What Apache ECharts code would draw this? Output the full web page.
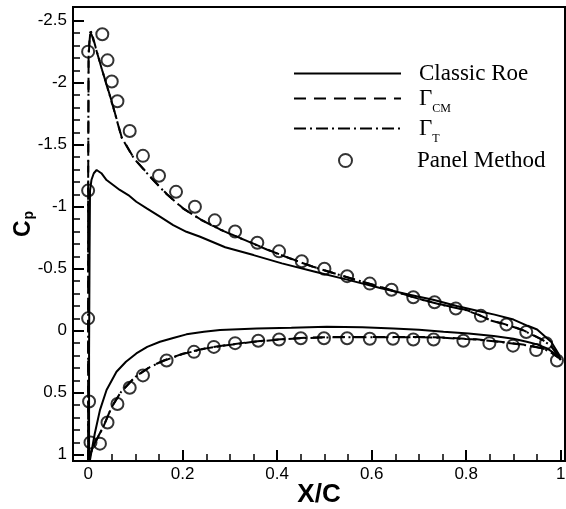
<!DOCTYPE html>
<html><head><meta charset="utf-8">
<script src="https://cdn.jsdelivr.net/npm/echarts@6/dist/echarts.min.js"></script>
<style>html,body{margin:0;padding:0;background:#fff}#c{width:566px;height:509px}</style>
</head><body><div id="c"></div>
<script>
// ---- tick labels ----
const xMajorTicks = [0, 0.2, 0.4, 0.6, 0.8, 1];
const xMinorTicks = [0.05, 0.1, 0.15, 0.25, 0.3, 0.35, 0.45, 0.5, 0.55, 0.65, 0.7, 0.75, 0.85, 0.9, 0.95];
const yMajorTicks = [-2.5, -2, -1.5, -1, -0.5, 0, 0.5, 1];
const yMinorTicks = [-2.4, -2.3, -2.2, -2.1, -1.9, -1.8, -1.7, -1.6, -1.4, -1.3, -1.2, -1.1, -0.9, -0.8, -0.7, -0.6, -0.4, -0.3, -0.2, -0.1, 0.1, 0.2, 0.3, 0.4, 0.6, 0.7, 0.8, 0.9];

// ---- series names ----
const seriesNames = ['Classic Roe', 'Γ_CM', 'Γ_T', 'Panel Method'];

// ---- Classic Roe (solid) : upper TE -> LE -> lower TE ----
const roeX = [1.000, 0.995, 0.980, 0.971, 0.950, 0.930, 0.900, 0.860, 0.830, 0.780, 0.730, 0.680, 0.620, 0.550, 0.480, 0.410, 0.350, 0.290, 0.237, 0.208, 0.180, 0.152, 0.124, 0.102, 0.085, 0.067, 0.053, 0.039, 0.028, 0.018, 0.012, 0.007, 0.004, 0.003, 0.002, 0.002, 0.004, 0.007, 0.014, 0.025, 0.039, 0.060, 0.080, 0.102, 0.125, 0.152, 0.180, 0.208, 0.245, 0.279, 0.357, 0.430, 0.505, 0.580, 0.646, 0.700, 0.752, 0.805, 0.858, 0.900, 0.928, 0.950, 0.971, 0.990, 1.000];
const roeCp = [0.236, 0.183, 0.090, 0.061, -0.010, -0.040, -0.090, -0.130, -0.155, -0.200, -0.250, -0.290, -0.342, -0.410, -0.476, -0.543, -0.610, -0.673, -0.758, -0.798, -0.852, -0.920, -0.987, -1.040, -1.094, -1.135, -1.175, -1.215, -1.270, -1.296, -1.270, -1.215, -1.130, -0.600, 0.200, 1.000, 1.040, 0.976, 0.830, 0.640, 0.478, 0.330, 0.250, 0.183, 0.130, 0.089, 0.058, 0.029, 0.008, -0.006, -0.019, -0.025, -0.032, -0.028, -0.019, -0.008, 0.008, 0.022, 0.043, 0.065, 0.089, 0.110, 0.142, 0.190, 0.236];

// ---- Gamma_CM (dashed) ----
const gcmX = [0.995, 0.978, 0.960, 0.942, 0.920, 0.900, 0.875, 0.850, 0.826, 0.801, 0.752, 0.709, 0.667, 0.618, 0.568, 0.526, 0.476, 0.427, 0.378, 0.332, 0.282, 0.240, 0.201, 0.167, 0.138, 0.097, 0.071, 0.050, 0.030, 0.016, 0.008, 0.004, 0.001, 0.000, 0.000, 0.000, 0.002, 0.006, 0.012, 0.021, 0.032, 0.050, 0.070, 0.100, 0.131, 0.160, 0.200, 0.250, 0.293, 0.346, 0.400, 0.450, 0.500, 0.550, 0.600, 0.650, 0.700, 0.752, 0.800, 0.822, 0.872, 0.928, 0.960, 0.978, 0.995];
const gcmCp = [0.196, 0.115, 0.070, 0.035, -0.005, -0.032, -0.060, -0.086, -0.130, -0.167, -0.207, -0.248, -0.296, -0.355, -0.409, -0.457, -0.516, -0.584, -0.656, -0.731, -0.812, -0.893, -0.987, -1.100, -1.215, -1.390, -1.560, -1.847, -2.097, -2.280, -2.380, -2.410, -2.200, -1.000, 0.000, 1.000, 1.040, 0.980, 0.920, 0.855, 0.774, 0.613, 0.490, 0.370, 0.290, 0.240, 0.185, 0.140, 0.115, 0.089, 0.070, 0.058, 0.052, 0.050, 0.050, 0.050, 0.050, 0.055, 0.065, 0.069, 0.089, 0.115, 0.140, 0.169, 0.215];

// ---- Gamma_T (dash-dot) ----
const gtX = [0.995, 0.978, 0.960, 0.942, 0.920, 0.900, 0.875, 0.850, 0.826, 0.800, 0.752, 0.709, 0.667, 0.618, 0.568, 0.526, 0.476, 0.427, 0.378, 0.332, 0.282, 0.240, 0.201, 0.167, 0.138, 0.097, 0.071, 0.050, 0.030, 0.016, 0.009, 0.005, 0.001, 0.000, 0.000, 0.000, 0.002, 0.006, 0.012, 0.021, 0.032, 0.050, 0.070, 0.100, 0.131, 0.160, 0.200, 0.250, 0.293, 0.346, 0.400, 0.450, 0.500, 0.550, 0.600, 0.650, 0.700, 0.752, 0.800, 0.822, 0.872, 0.928, 0.960, 0.978, 0.995];
const gtCp = [0.200, 0.118, 0.072, 0.037, -0.004, -0.030, -0.058, -0.085, -0.128, -0.166, -0.206, -0.247, -0.295, -0.354, -0.408, -0.456, -0.515, -0.583, -0.655, -0.730, -0.811, -0.892, -0.985, -1.098, -1.212, -1.388, -1.556, -1.845, -2.095, -2.283, -2.385, -2.420, -2.250, -1.100, 0.000, 1.000, 1.040, 0.982, 0.922, 0.857, 0.776, 0.615, 0.492, 0.372, 0.292, 0.242, 0.187, 0.142, 0.117, 0.091, 0.072, 0.060, 0.054, 0.052, 0.052, 0.052, 0.052, 0.057, 0.067, 0.071, 0.091, 0.117, 0.142, 0.171, 0.218];

// ---- Panel Method (circles) ----
const panelX = [0.000, 0.000, 0.030, 0.041, 0.050, 0.062, 0.088, 0.116, 0.150, 0.186, 0.226, 0.268, 0.311, 0.358, 0.404, 0.452, 0.500, 0.548, 0.596, 0.642, 0.688, 0.733, 0.778, 0.831, 0.885, 0.927, 0.969, 0.992,
  0.000, 0.002, 0.005, 0.025, 0.041, 0.062, 0.088, 0.116, 0.166, 0.224, 0.266, 0.311, 0.360, 0.404, 0.450, 0.499, 0.548, 0.596, 0.645, 0.688, 0.731, 0.794, 0.849, 0.899, 0.948];
const panelCp = [-1.13, -2.25, -2.39, -2.18, -2.01, -1.85, -1.61, -1.41, -1.25, -1.12, -1.00, -0.89, -0.80, -0.71, -0.64, -0.56, -0.50, -0.44, -0.38, -0.33, -0.27, -0.23, -0.18, -0.12, -0.05, 0.01, 0.10, 0.24,
  -0.10, 0.57, 0.90, 0.91, 0.74, 0.59, 0.46, 0.36, 0.24, 0.17, 0.13, 0.10, 0.08, 0.07, 0.06, 0.06, 0.06, 0.065, 0.065, 0.07, 0.07, 0.08, 0.10, 0.12, 0.156];

const pairs = (xs, ys) => xs.map((x, i) => [x, ys[i]]);

const X_MIN = -0.032, X_MAX = 1.009, Y_MIN = -2.61, Y_MAX = 1.05;
const FONT = "'Liberation Sans', Arial, sans-serif";
const SERIF = "'Liberation Serif', 'Times New Roman', serif";

const chart = echarts.init(document.getElementById('c'), null, {renderer: 'canvas'});

const legendText = {
  fontFamily: SERIF, fontSize: 23, color: '#000', padding: [0, 0, 0, 13],
  rich: {
    g: {fontFamily: SERIF, fontSize: 23, color: '#000'},
    s: {fontFamily: SERIF, fontSize: 12, color: '#000', padding: [20, 0, 0, 0]}
  }
};
const fmt = n => n.indexOf('_') >= 0 ? '{g|' + n.split('_')[0] + '}{s|' + n.split('_')[1] + '}' : n;
const hiddenSymbol = {color: 'rgba(0,0,0,0)', borderColor: 'rgba(0,0,0,0)', borderWidth: 0};
function mkLegend(name, left, top, ih, isLine) {
  const l = {
    data: [name], left: left, top: top, orient: 'vertical', padding: 0,
    itemWidth: 107, itemHeight: ih, formatter: fmt, textStyle: legendText,
    selectedMode: false
  };
  if (isLine) l.itemStyle = hiddenSymbol;
  return l;
}

chart.setOption({
  animation: false,
  backgroundColor: '#fff',
  grid: {left: 73, right: 1, top: 7, bottom: 48, show: true, borderColor: '#000', borderWidth: 2,
         containLabel: false, outerBoundsMode: 'none'},
  legend: [
    mkLegend(seriesNames[0], 293, 62, 14, true),
    mkLegend(seriesNames[1], 293, 87, 14, true),
    mkLegend(seriesNames[2], 293, 117, 14, true),
    mkLegend(seriesNames[3], 338, 149, 13, false)
  ],
  xAxis: [
    {
      type: 'value', min: X_MIN, max: X_MAX, position: 'bottom',
      name: 'X/C', nameLocation: 'middle', nameGap: 21, nameMoveOverlap: false,
      nameTextStyle: {fontFamily: FONT, fontWeight: 'bold', fontSize: 26, color: '#000'},
      axisLine: {show: true, onZero: false, lineStyle: {color: '#000', width: 2}},
      axisTick: {show: true, inside: true, length: 11, lineStyle: {color: '#000', width: 2}, customValues: xMajorTicks},
      axisLabel: {show: true, margin: 5, fontFamily: FONT, fontSize: 17, color: '#000', customValues: xMajorTicks, formatter: v => String(v)},
      splitLine: {show: false}
    },
    {
      type: 'value', min: X_MIN, max: X_MAX, position: 'bottom',
      axisLine: {show: false, onZero: false},
      axisTick: {show: true, inside: true, length: 7, lineStyle: {color: '#000', width: 1.5}, customValues: xMinorTicks},
      axisLabel: {show: false},
      splitLine: {show: false}
    }
  ],
  yAxis: [
    {
      type: 'value', min: Y_MIN, max: Y_MAX, inverse: true, position: 'left',
      name: '{c|C}{p|p}', nameLocation: 'middle', nameGap: 37, nameRotate: 90, nameMoveOverlap: false,
      nameTextStyle: {
        rich: {
          c: {fontFamily: FONT, fontWeight: 'bold', fontSize: 23, color: '#000'},
          p: {fontFamily: FONT, fontWeight: 'bold', fontSize: 14, color: '#000', padding: [10, 0, 0, 1]}
        },
        padding: [0, 0, 0, 20]
      },
      axisLine: {show: true, onZero: false, lineStyle: {color: '#000', width: 2}},
      axisTick: {show: true, inside: true, length: 11, lineStyle: {color: '#000', width: 2}, customValues: yMajorTicks},
      axisLabel: {show: true, margin: 6, fontFamily: FONT, fontSize: 17, color: '#000', customValues: yMajorTicks, formatter: v => String(v)},
      splitLine: {show: false}
    },
    {
      type: 'value', min: Y_MIN, max: Y_MAX, inverse: true, position: 'left',
      axisLine: {show: false, onZero: false},
      axisTick: {show: true, inside: true, length: 7, lineStyle: {color: '#000', width: 1.5}, customValues: yMinorTicks},
      axisLabel: {show: false},
      splitLine: {show: false}
    }
  ],
  series: [
    {
      name: seriesNames[0], type: 'line', xAxisIndex: 0, yAxisIndex: 0,
      data: pairs(roeX, roeCp), symbol: 'none', smooth: false,
      lineStyle: {color: '#000', width: 2, type: 'solid'}, itemStyle: {color: '#000'}
    },
    {
      name: seriesNames[1], type: 'line', xAxisIndex: 0, yAxisIndex: 0,
      data: pairs(gcmX, gcmCp), symbol: 'none', smooth: false,
      lineStyle: {color: '#000', width: 2, type: [12, 8]}, itemStyle: {color: '#000'}
    },
    {
      name: seriesNames[2], type: 'line', xAxisIndex: 0, yAxisIndex: 0,
      data: pairs(gtX, gtCp), symbol: 'none', smooth: false,
      lineStyle: {color: '#000', width: 2, type: [12, 4, 2, 4]}, itemStyle: {color: '#000'}
    },
    {
      name: seriesNames[3], type: 'scatter', xAxisIndex: 0, yAxisIndex: 0,
      data: pairs(panelX, panelCp), symbol: 'circle', symbolSize: 12,
      itemStyle: {color: 'rgba(0,0,0,0)', borderColor: '#000', borderWidth: 2}
    }
  ]
});
</script>
</body></html>
